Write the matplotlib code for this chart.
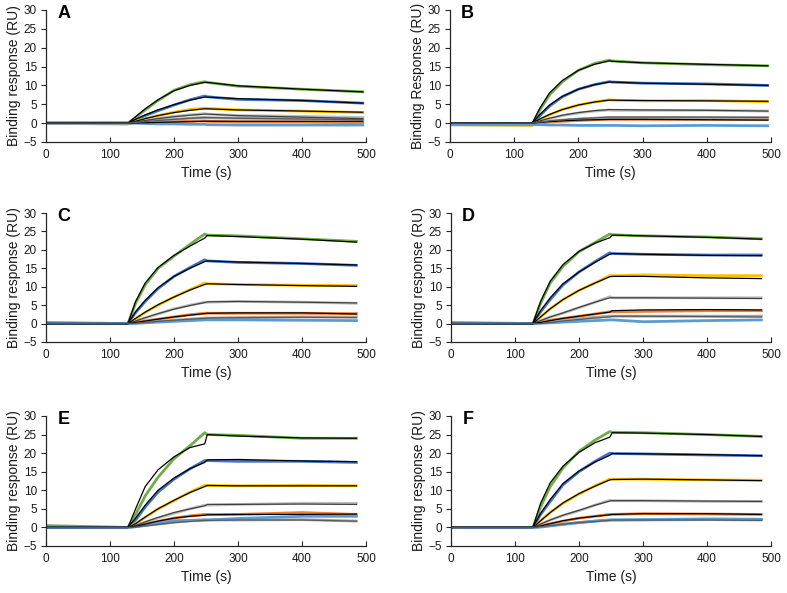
import numpy as np
import matplotlib
matplotlib.use('Agg')
import matplotlib.pyplot as plt

plt.rcParams['font.family'] = ['Liberation Sans', 'DejaVu Sans']

# sampling times (s)
t_ab = [0, 128, 140, 155, 175, 200, 225, 248, 252, 300, 400, 495]
t_cf = [0, 128, 140, 155, 175, 200, 225, 248, 252, 300, 400, 485]

series_colors = ['#70AD47', '#4472C4', '#FFC000', '#BFBFBF', '#ED7D31', '#A5A5A5', '#5B9BD5']
fit_colors = ['black', 'black', 'black', '#404040', 'black', '#595959']

# panel A  (RU)
a_data = [
    [0, 0, 1.5, 3.5, 6.0, 8.7, 10.2, 11.0, 10.8, 9.8, 9.0, 8.3],
    [0, 0, 0.8, 2.0, 3.3, 4.8, 6.2, 7.2, 7.0, 6.3, 6.0, 5.3],
    [0, -0.3, 0.5, 1.2, 2.0, 2.9, 3.6, 4.0, 3.9, 3.5, 3.2, 2.8],
    [0, 0, 0.3, 0.8, 1.3, 1.8, 2.2, 2.5, 2.4, 2.0, 1.8, 1.5],
    [0, 0, 0.1, 0.2, 0.3, 0.4, 0.5, 0.6, 0.5, 0.3, 0.3, 0.1],
    [0, 0, 0.2, 0.4, 0.7, 1.0, 1.3, 1.5, 1.4, 1.3, 1.2, 1.0],
    [0, 0, 0, -0.1, -0.2, -0.2, -0.3, -0.3, -0.4, -0.5, -0.5, -0.5],
]
a_fit = [
    [0, 0, 1.7, 3.8, 6.2, 8.6, 10.0, 10.8, 10.8, 9.9, 9.0, 8.3],
    [0, 0, 1.0, 2.2, 3.5, 4.9, 6.1, 6.9, 6.9, 6.5, 6.0, 5.3],
    [0, 0, 0.5, 1.2, 2.0, 2.8, 3.4, 3.8, 3.8, 3.5, 3.2, 2.9],
    [0, 0, 0.3, 0.7, 1.2, 1.7, 2.1, 2.4, 2.4, 2.0, 1.6, 1.2],
    [0, 0, 0.05, 0.1, 0.2, 0.3, 0.4, 0.5, 0.5, 0.5, 0.5, 0.5],
    [0, 0, 0.2, 0.4, 0.7, 1.0, 1.3, 1.5, 1.5, 1.3, 1.1, 0.9],
]

# panel B
b_data = [
    [-0.4, -0.4, 3.5, 7.5, 11.0, 14.0, 15.8, 16.7, 16.5, 16.0, 15.5, 15.2],
    [-0.4, -0.4, 2.0, 4.5, 7.0, 9.0, 10.2, 11.0, 10.9, 10.6, 10.4, 10.0],
    [-0.4, -0.6, 1.0, 2.2, 3.6, 4.8, 5.6, 6.2, 6.1, 5.9, 6.0, 5.7],
    [-0.4, -0.4, 0.5, 1.2, 2.0, 2.7, 3.2, 3.5, 3.4, 3.4, 3.4, 3.2],
    [-0.4, -0.4, 0.0, 0.3, 0.5, 0.7, 0.9, 1.0, 1.0, 1.0, 1.0, 1.0],
    [-0.4, -0.4, 0.2, 0.5, 0.8, 1.1, 1.3, 1.5, 1.5, 1.5, 1.5, 1.5],
    [-0.4, -0.4, -0.4, -0.5, -0.5, -0.6, -0.6, -0.6, -0.6, -0.7, -0.6, -0.7],
]
b_fit = [
    [0, 0, 4.0, 8.0, 11.3, 14.0, 15.6, 16.5, 16.4, 16.0, 15.6, 15.2],
    [0, 0, 2.3, 4.8, 7.1, 9.0, 10.2, 10.9, 10.9, 10.6, 10.3, 10.0],
    [0, 0, 1.1, 2.3, 3.6, 4.8, 5.6, 6.1, 6.1, 6.0, 5.9, 5.8],
    [0, 0, 0.6, 1.3, 2.1, 2.8, 3.3, 3.6, 3.6, 3.5, 3.4, 3.2],
    [0, 0, 0.2, 0.4, 0.6, 0.8, 0.9, 1.0, 1.0, 1.0, 0.9, 0.8],
    [0, 0, 0.3, 0.6, 0.9, 1.2, 1.4, 1.6, 1.6, 1.6, 1.6, 1.5],
]

# panel C
c_data = [
    [0.3, 0, 5.5, 10.5, 15.0, 18.3, 21.5, 24.3, 24.0, 23.8, 23.0, 22.3],
    [0, 0, 3.0, 6.0, 9.5, 12.8, 15.2, 17.3, 17.0, 16.6, 16.3, 15.8],
    [0, 0, 1.3, 3.0, 5.0, 7.2, 9.2, 11.0, 10.8, 10.6, 10.4, 10.3],
    [0, 0, 0.7, 1.5, 2.6, 4.0, 5.0, 5.8, 5.8, 6.0, 5.8, 5.5],
    [0, 0, 0.3, 0.7, 1.2, 1.8, 2.4, 2.8, 2.8, 2.8, 2.8, 2.7],
    [0, 0, 0.1, 0.3, 0.6, 0.9, 1.2, 1.5, 1.5, 1.6, 1.8, 1.8],
    [0, 0, 0.1, 0.2, 0.4, 0.6, 0.8, 1.0, 1.0, 1.0, 0.9, 0.8],
]
c_fit = [
    [0, 0, 6.0, 11.0, 15.2, 18.5, 21.0, 23.2, 23.9, 23.6, 22.9, 22.1],
    [0, 0, 3.2, 6.3, 9.7, 12.8, 15.0, 16.8, 17.0, 16.7, 16.3, 15.9],
    [0, 0, 1.4, 3.1, 5.1, 7.2, 9.1, 10.6, 10.8, 10.6, 10.3, 10.1],
    [0, 0, 0.7, 1.6, 2.7, 3.9, 4.9, 5.7, 5.9, 6.0, 5.8, 5.6],
    [0, 0, 0.3, 0.7, 1.2, 1.8, 2.3, 2.7, 2.8, 2.9, 2.9, 2.6],
    [0, 0, 0.1, 0.3, 0.6, 0.9, 1.2, 1.4, 1.5, 1.6, 1.7, 1.6],
]

# panel D
d_data = [
    [0.3, 0, 5.5, 11.0, 15.5, 19.5, 22.0, 24.3, 24.1, 23.8, 23.5, 23.0],
    [0, 0, 3.2, 6.5, 10.5, 14.0, 16.8, 19.2, 19.0, 18.8, 18.6, 18.6],
    [0, 0, 1.8, 4.0, 6.5, 9.0, 11.0, 13.0, 13.0, 13.2, 13.0, 13.0],
    [0, 0, 0.8, 1.8, 2.8, 4.3, 5.8, 7.3, 7.0, 7.0, 7.0, 7.0],
    [0, 0, 0.4, 0.9, 1.4, 2.0, 2.6, 3.2, 3.2, 3.3, 3.5, 3.5],
    [0, 0, 0.2, 0.5, 0.9, 1.3, 1.7, 2.0, 2.0, 2.0, 2.0, 2.0],
    [0, 0, 0.1, 0.2, 0.4, 0.6, 0.8, 1.0, 1.0, 0.5, 0.8, 1.0],
]
d_fit = [
    [0, 0, 6.0, 11.5, 16.0, 19.6, 21.8, 23.3, 24.0, 23.8, 23.4, 22.9],
    [0, 0, 3.5, 7.0, 10.8, 14.0, 16.6, 18.8, 19.0, 18.8, 18.5, 18.4],
    [0, 0, 1.8, 4.0, 6.5, 9.0, 11.0, 12.7, 12.8, 12.8, 12.4, 12.2],
    [0, 0, 0.8, 1.8, 2.9, 4.4, 5.8, 7.0, 7.0, 7.0, 6.9, 6.8],
    [0, 0, 0.3, 0.8, 1.4, 2.0, 2.6, 3.1, 3.5, 3.7, 3.8, 3.7],
    [0, 0, 0.0, 0.3, 0.7, 1.1, 1.5, 1.8, 2.0, 2.0, 1.9, 1.8],
]

# panel E
e_data = [
    [0.5, 0, 3.5, 8.5, 13.5, 18.5, 22.0, 25.5, 25.0, 24.8, 24.0, 24.0],
    [0, 0, 2.0, 5.5, 9.5, 13.0, 15.8, 18.0, 18.0, 17.8, 17.8, 17.5],
    [0, 0, 1.0, 2.7, 5.0, 7.2, 9.5, 11.3, 11.3, 11.2, 11.3, 11.2],
    [0, 0, 0.5, 1.4, 2.5, 3.8, 5.0, 6.0, 6.0, 6.2, 6.5, 6.5],
    [0, 0, 0.3, 0.9, 1.6, 2.5, 3.1, 3.5, 3.5, 3.5, 4.0, 3.5],
    [0, 0, 0.2, 0.5, 0.9, 1.4, 1.8, 2.0, 2.0, 2.0, 2.1, 1.7],
    [0, 0, 0.2, 0.6, 1.1, 1.8, 1.9, 2.0, 2.0, 2.4, 3.0, 3.0],
]
e_fit = [
    [0, 0, 5.0, 11.0, 15.5, 19.0, 21.5, 22.5, 25.0, 24.6, 24.1, 24.0],
    [0, 0, 2.5, 6.0, 10.0, 13.3, 15.8, 17.5, 18.2, 18.3, 17.9, 17.7],
    [0, 0, 1.0, 2.8, 5.0, 7.3, 9.4, 11.0, 11.3, 11.2, 11.2, 11.2],
    [0, 0, 0.5, 1.5, 2.7, 4.0, 5.0, 5.8, 6.2, 6.2, 6.3, 6.2],
    [0, 0, 0.3, 0.9, 1.7, 2.5, 3.0, 3.3, 3.4, 3.5, 3.5, 3.6],
    [0, 0, 0.1, 0.4, 0.8, 1.3, 1.6, 1.9, 1.9, 2.0, 2.0, 1.7],
]

# panel F
f_data = [
    [0, 0, 5.5, 11.0, 16.0, 20.5, 23.5, 25.8, 25.6, 25.5, 25.0, 24.5],
    [0, 0, 3.5, 7.0, 11.5, 15.0, 17.8, 20.0, 19.9, 19.8, 19.5, 19.3],
    [0, 0, 1.8, 4.0, 6.5, 9.0, 11.2, 13.0, 13.0, 13.0, 12.8, 12.7],
    [0, 0, 0.9, 2.0, 3.2, 4.5, 6.0, 7.3, 7.2, 7.2, 7.0, 7.0],
    [0, 0, 0.4, 1.0, 1.7, 2.5, 3.0, 3.5, 3.5, 3.7, 3.6, 3.5],
    [0, 0, 0.2, 0.5, 0.9, 1.3, 1.7, 2.0, 2.0, 2.0, 2.1, 2.0],
    [0, 0, 0.1, 0.4, 0.8, 1.3, 1.7, 2.0, 2.0, 2.1, 2.3, 2.2],
]
f_fit = [
    [0, 0, 6.5, 12.0, 16.5, 20.2, 22.8, 24.3, 25.5, 25.4, 25.0, 24.5],
    [0, 0, 3.8, 7.5, 11.8, 15.2, 17.6, 19.4, 19.9, 19.8, 19.6, 19.3],
    [0, 0, 1.8, 4.0, 6.6, 9.1, 11.1, 12.8, 12.9, 13.0, 12.8, 12.6],
    [0, 0, 0.9, 2.0, 3.3, 4.6, 6.0, 7.1, 7.2, 7.2, 7.1, 7.0],
    [0, 0, 0.4, 1.0, 1.8, 2.5, 3.0, 3.4, 3.5, 3.7, 3.7, 3.5],
    [0, 0, 0.2, 0.5, 0.9, 1.3, 1.6, 1.9, 2.0, 2.0, 2.0, 1.9],
]

panel_letters = ['A', 'B', 'C', 'D', 'E', 'F']
ylabels = ['Binding response (RU)', 'Binding Response (RU)', 'Binding response (RU)',
           'Binding response (RU)', 'Binding response (RU)', 'Binding response (RU)']
panels = [(t_ab, a_data, a_fit), (t_ab, b_data, b_fit), (t_cf, c_data, c_fit),
          (t_cf, d_data, d_fit), (t_cf, e_data, e_fit), (t_cf, f_data, f_fit)]

# axes boxes in pixels: left, top, right, bottom
boxes = [(46, 10, 366, 142), (450, 10, 771, 142),
         (46, 213, 366, 342), (451, 213, 771, 342),
         (46, 416, 366, 546), (451, 416, 771, 546)]

W, H = 787, 593
fig = plt.figure(figsize=(W / 100, H / 100), dpi=100)
txt = '#1a1a1a'

for i, (t, data, fit) in enumerate(panels):
    l, tp, r, b = boxes[i]
    ax = fig.add_axes([l / W, 1 - b / H, (r - l) / W, (b - tp) / H])
    for vals, c in zip(data, series_colors):
        ax.plot(t, vals, color=c, lw=2.0, solid_joinstyle='round')
    for vals, c in zip(fit, fit_colors):
        ax.plot(t, vals, color=c, lw=0.9)
    ax.set_xlim(0, 500)
    ax.set_ylim(-5, 30)
    ax.set_xticks([0, 100, 200, 300, 400, 500])
    ax.set_yticks([-5, 0, 5, 10, 15, 20, 25, 30])
    for s in ['top', 'right']:
        ax.spines[s].set_visible(False)
    for s in ['left', 'bottom']:
        ax.spines[s].set_color('#262626')
        ax.spines[s].set_linewidth(0.9)
    ax.tick_params(axis='y', direction='out', length=3.5, width=0.8, colors='#262626',
                   labelcolor=txt, labelsize=8.5, pad=3)
    ax.tick_params(axis='x', direction='in', length=3.5, width=0.8, colors='#262626',
                   labelcolor=txt, labelsize=8.5, pad=5)
    ax.set_xlabel('Time (s)', fontsize=10, color=txt, labelpad=4)
    ax.set_ylabel(ylabels[i], fontsize=10, color=txt, labelpad=2)
    ax.text(0.055, 0.97, panel_letters[i], transform=ax.transAxes,
            fontsize=13, fontweight='bold', ha='center', va='center', color='black')

fig.savefig('out.png', dpi=100)
